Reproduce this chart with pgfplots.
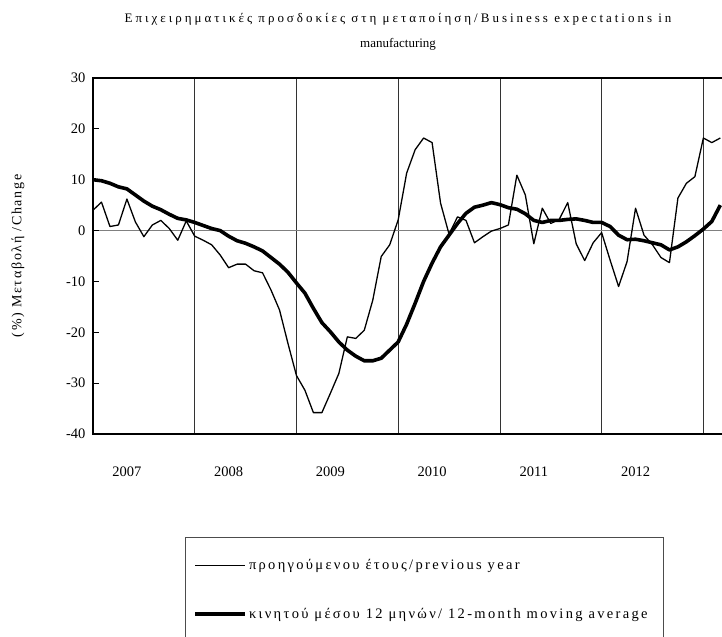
\documentclass[border=0pt]{standalone}
\usepackage{pgfplots}
\pgfplotsset{compat=1.18}
\usepackage{fontspec}
\setmainfont{Liberation Serif}
\newfontfamily\spaced[LetterSpace=23]{Liberation Serif}
\newfontfamily\spacedb[LetterSpace=12]{Liberation Serif}
\newfontfamily\spacedc[LetterSpace=16]{Liberation Serif}
\pgfplotstableread{
m v
0 4.0
1 5.6
2 0.8
3 1.1
4 6.2
5 1.7
6 -1.2
7 1.1
8 2.0
9 0.4
10 -1.9
11 1.9
12 -1.1
13 -1.9
14 -2.8
15 -4.8
16 -7.3
17 -6.6
18 -6.6
19 -7.9
20 -8.3
21 -11.7
22 -15.6
23 -22.2
24 -28.5
25 -31.4
26 -35.8
27 -35.8
28 -32.0
29 -28.1
30 -20.9
31 -21.2
32 -19.6
33 -13.7
34 -5.1
35 -2.8
36 2.1
37 11.3
38 15.9
39 18.2
40 17.3
41 5.4
42 -0.7
43 2.7
44 2.0
45 -2.4
46 -1.2
47 -0.1
48 0.4
49 1.1
50 10.9
51 7.0
52 -2.6
53 4.4
54 1.4
55 2.2
56 5.5
57 -2.6
58 -5.9
59 -2.4
60 -0.4
61 -5.8
62 -11.0
63 -6.1
64 4.4
65 -0.9
66 -2.8
67 -5.3
68 -6.3
69 6.4
70 9.3
71 10.6
72 18.2
73 17.3
74 18.2
}\yoy
\pgfplotstableread{
m v
0 10.0
1 9.8
2 9.3
3 8.6
4 8.2
5 7.0
6 5.8
7 4.8
8 4.1
9 3.2
10 2.4
11 2.1
12 1.6
13 1.0
14 0.4
15 0.0
16 -1.1
17 -2.0
18 -2.5
19 -3.2
20 -4.0
21 -5.3
22 -6.6
23 -8.2
24 -10.3
25 -12.3
26 -15.3
27 -18.1
28 -19.9
29 -21.9
30 -23.5
31 -24.7
32 -25.6
33 -25.6
34 -25.1
35 -23.5
36 -21.9
37 -18.4
38 -14.3
39 -10.0
40 -6.4
41 -3.2
42 -0.9
43 1.4
44 3.4
45 4.6
46 5.0
47 5.5
48 5.1
49 4.5
50 4.2
51 3.3
52 2.0
53 1.6
54 2.0
55 2.0
56 2.2
57 2.3
58 2.0
59 1.6
60 1.6
61 0.8
62 -0.9
63 -1.8
64 -1.7
65 -2.0
66 -2.4
67 -2.8
68 -3.8
69 -3.2
70 -2.2
71 -1.0
72 0.3
73 1.8
74 5.0
}\mavg
\begin{document}
\begin{tikzpicture}
\useasboundingbox (0,0) rectangle (722bp,-637bp);
\clip (0,0) rectangle (722bp,-637bp);
\begin{axis}[
  at={(93bp,-434bp)}, anchor=south west,
  width=629bp, height=356bp, scale only axis,
  xmin=0, xmax=74.2, ymin=-40, ymax=30,
  axis line style={draw=none},
  clip mode=individual,
  ytick={-40,-30,...,30},
  ytick pos=left, tick align=inside,
  major tick length=6bp,
  ytick style={black, line width=0.8bp},
  xtick={4,16,28,40,52,64},
  xticklabels={2007,2008,2009,2010,2011,2012},
  xtick style={draw=none},
  extra x ticks={12,24,36,48,60,72},
  extra x tick labels={},
  extra x tick style={xmajorgrids=true, major grid style={black!80, line width=0.8bp}, tick style={draw=none}},
  extra y ticks={0},
  extra y tick labels={},
  extra y tick style={ymajorgrids=true, major grid style={black!50, line width=1.2bp}},
  /pgf/number format/assume math mode=true,
  ticklabel style={font=\fontsize{14.5bp}{17bp}\selectfont},
  xticklabel style={yshift=-29bp},
  yticklabel style={xshift=-4bp},
  title={{\spaced Επιχειρηματικές προσδοκίες στη μεταποίηση/Business expectations in}\\ manufacturing},
  title style={at={(axis description cs:0.485,1)}, anchor=south, align=center, yshift=18bp,
    font=\fontsize{13bp}{25bp}\selectfont},
  ylabel={\spacedb (\%) Μεταβολή /Change},
  ylabel style={at={(axis description cs:-0.1192,0.5)}, anchor=center,
    font=\fontsize{14bp}{17bp}\selectfont},
  legend style={at={(axis description cs:0.1463,-0.2893)}, anchor=north west,
    draw=black!70, line width=0.8bp, inner xsep=8bp, inner ysep=20bp,
    row sep=33bp,
    font=\fontsize{14.5bp}{17bp}\selectfont\spacedc},
  legend cell align=left,
  legend image code/.code={\draw[#1] (0bp,0bp) -- (50bp,0bp);},
]
\addplot[black, line width=1.3bp, line join=round] table[x=m, y=v] {\yoy};
\addlegendentry{προηγούμενου έτους/previous year}
\addplot[black, line width=3.6bp, line join=round] table[x=m, y=v] {\mavg};
\addlegendentry{\makebox[404bp][l]{κινητού μέσου 12 μηνών/ 12-month moving average}}
\draw[black, line width=2bp] (rel axis cs:1,1) -- (rel axis cs:0,1) -- (rel axis cs:0,0) -- (rel axis cs:1,0);
\end{axis}
\end{tikzpicture}
\end{document}
